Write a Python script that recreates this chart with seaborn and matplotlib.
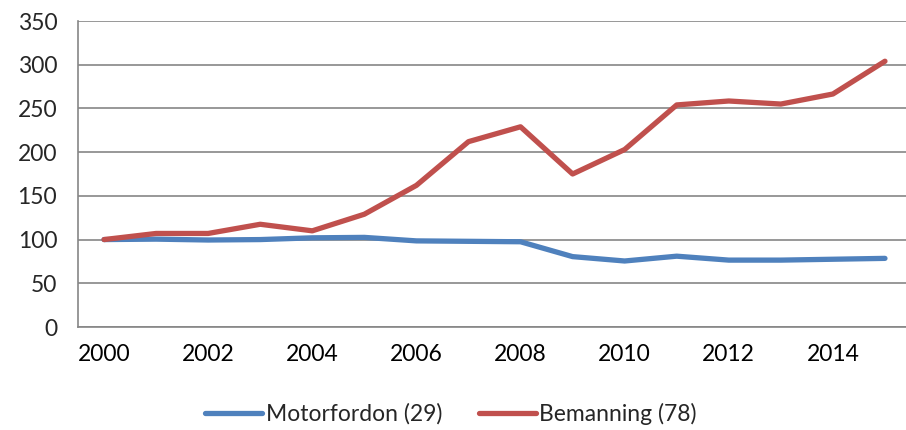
import pandas as pd
import seaborn as sns
import matplotlib.pyplot as plt
from matplotlib.ticker import MultipleLocator, FixedLocator

years = list(range(2000, 2016))
motorfordon = [100, 100.5, 99.5, 100, 102, 102.5, 98.5, 98, 97.5, 80.5, 75.5, 81, 76.5, 76.5, 77.5, 78.5]
bemanning = [100, 107, 107, 117.5, 110, 129, 162, 212, 229, 175, 203, 254, 258.5, 255, 266.5, 304]
series_names = ["Motorfordon (29)", "Bemanning (78)"]
colors = ["#4F81BD", "#C0504D"]

df = pd.DataFrame({
    "pos": list(range(len(years))) * 2,
    "value": motorfordon + bemanning,
    "series": [series_names[0]] * len(years) + [series_names[1]] * len(years),
})

sns.set_style("white")
plt.rcParams["font.family"] = ["Lato", "DejaVu Sans"]

fig = plt.figure(figsize=(9.06, 4.30), dpi=100)
ax = fig.add_axes([78 / 906, 103 / 430, 833 / 906, 306 / 430])

sns.lineplot(data=df, x="pos", y="value", hue="series", palette=colors,
             linewidth=3.8, ax=ax, legend=False, zorder=3)
for ln in ax.get_lines():
    ln.set_solid_capstyle("round")
    ln.set_solid_joinstyle("round")

gray = "#868686"
fs = 16.5
ax.set_xlim(-0.5, len(years) - 0.5)
ax.set_ylim(0, 350)
ax.yaxis.set_major_locator(MultipleLocator(50))
ax.grid(axis="y", color=gray, linewidth=1.2)
ax.set_axisbelow(True)

ax.set_xticks(range(0, len(years), 2))
ax.set_xticklabels([str(y) for y in years[::2]])
ax.xaxis.set_minor_locator(FixedLocator([i - 0.5 for i in range(len(years) + 1)]))
ax.tick_params(axis="x", which="major", length=0, pad=12, labelsize=fs, colors="black")
ax.tick_params(axis="x", which="minor", length=8, width=1.2, color=gray, direction="out")
ax.tick_params(axis="y", length=8, width=1.2, color=gray, direction="out", pad=7, labelsize=fs)
ax.set_xlabel("")
ax.set_ylabel("")

for s in ["top", "right"]:
    ax.spines[s].set_visible(False)
for s in ["left", "bottom"]:
    ax.spines[s].set_color(gray)
    ax.spines[s].set_linewidth(1.2)

handles = [plt.Line2D([], [], color=c, linewidth=3.8, solid_capstyle="round") for c in colors]
fig.legend(handles, series_names, loc="center", bbox_to_anchor=(451 / 906, 1 - 414 / 430),
           ncol=2, frameon=False, fontsize=fs, handlelength=2.5, handletextpad=0.15,
           columnspacing=1.6)

fig.savefig("out.png", dpi=100)
